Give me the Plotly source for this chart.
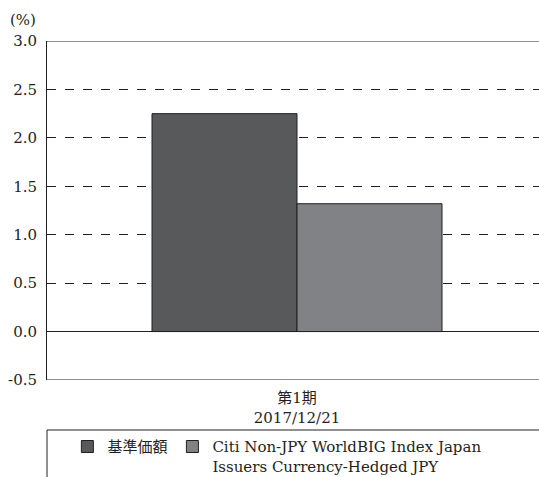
import plotly.graph_objects as go

categories = ["第1期<br>2017/12/21"]
series_names = ["基準価額", "Citi Non-JPY WorldBIG Index Japan<br>Issuers Currency-Hedged JPY"]
fund_values = [2.25]
index_values = [1.32]
colors = ["#58595b", "#808285"]

FONT = "DejaVu Serif, Noto Sans CJK JP, serif"

fig = go.Figure()
for name, vals, col in zip(series_names, [fund_values, index_values], colors):
    fig.add_trace(go.Bar(
        x=categories, y=vals, name=name,
        marker=dict(color=col, line=dict(color="#231f20", width=1)),
    ))

fig.update_layout(
    width=539, height=477,
    margin=dict(l=47, r=0, t=41, b=97, autoexpand=False),
    paper_bgcolor="white", plot_bgcolor="white",
    font=dict(family=FONT, size=15, color="#231f20"),
    barmode="group", bargap=0.42, bargroupgap=0,
    showlegend=True,
    legend=dict(
        orientation="h", xref="container", yref="container",
        x=0.125, y=0.098, xanchor="left", yanchor="top",
        font=dict(size=15, family=FONT), bgcolor="rgba(0,0,0,0)",
        itemwidth=30, valign="top", traceorder="normal",
    ),
    xaxis=dict(range=[-0.5, 0.484], showline=False, showgrid=False, ticks="",
               tickfont=dict(size=15), automargin=False, ticklabelstandoff=7),
    yaxis=dict(range=[-0.5, 3.0], tickvals=[-0.5, 0, 0.5, 1.0, 1.5, 2.0, 2.5, 3.0],
               ticktext=["-0.5", "0.0", "0.5", "1.0", "1.5", "2.0", "2.5", "3.0"],
               showgrid=True, gridcolor="#231f20", griddash="dash", gridwidth=1,
               zeroline=True, zerolinecolor="#231f20", zerolinewidth=1,
               showline=True, linecolor="#231f20", linewidth=1, ticks="",
               ticklabelstandoff=6, tickfont=dict(size=15), automargin=False),
    annotations=[dict(text="(%)", xref="paper", yref="paper", x=-0.08, y=1.03,
                      xanchor="left", yanchor="bottom", showarrow=False,
                      font=dict(size=15))],
    shapes=[
        dict(type="line", xref="paper", yref="y", x0=0, x1=1, y0=3.0, y1=3.0,
             line=dict(color="#231f20", width=1)),
        dict(type="line", xref="paper", yref="y", x0=0, x1=1, y0=-0.5, y1=-0.5,
             line=dict(color="#231f20", width=1)),
        dict(type="line", xref="paper", yref="paper", x0=0, x1=1, y0=-0.1475, y1=-0.1475,
             line=dict(color="#231f20", width=1)),
        dict(type="line", xref="paper", yref="paper", x0=0, x1=0, y0=-0.1475, y1=-0.3,
             line=dict(color="#231f20", width=1)),
    ],
)

post = ("var s=document.createElement('style');"
        "s.textContent='body{margin:0;padding:0;}';"
        "document.head.appendChild(s);")
fig.write_html("out.html", config={"displayModeBar": False}, post_script=post)
